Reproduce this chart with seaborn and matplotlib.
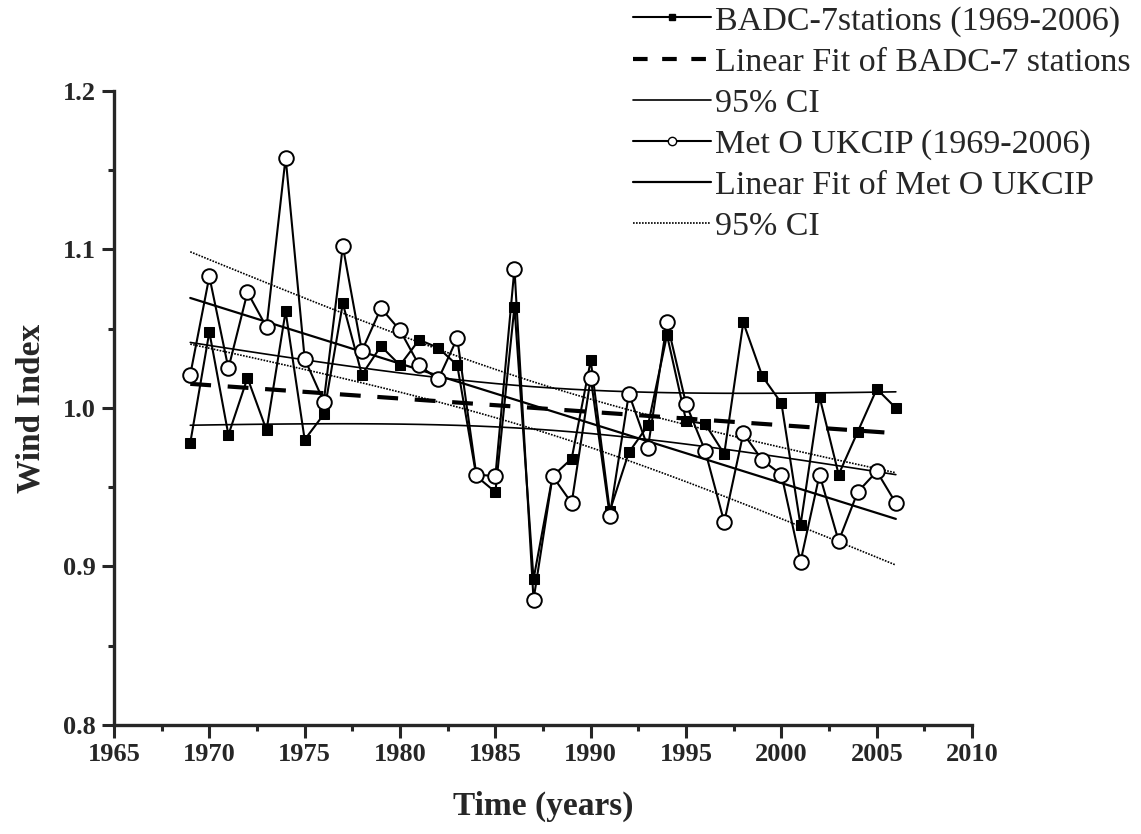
import numpy as np
import pandas as pd
import matplotlib
matplotlib.use("Agg")
import matplotlib.pyplot as plt
import seaborn as sns
from matplotlib.ticker import MultipleLocator, FormatStrFormatter
from matplotlib.lines import Line2D

years = list(range(1969, 2007))
badc = [0.978, 1.048, 0.983, 1.019, 0.986, 1.061, 0.980, 0.996, 1.066, 1.021,
        1.039, 1.027, 1.043, 1.038, 1.027, 0.957, 0.947, 1.064, 0.892, 0.957,
        0.968, 1.030, 0.935, 0.972, 0.989, 1.046, 0.992, 0.990, 0.971, 1.054,
        1.020, 1.003, 0.926, 1.007, 0.958, 0.985, 1.012, 1.000]
meto = [1.021, 1.083, 1.025, 1.073, 1.051, 1.158, 1.031, 1.004, 1.102, 1.036,
        1.063, 1.049, 1.027, 1.018, 1.044, 0.958, 0.957, 1.088, 0.879, 0.957,
        0.940, 1.019, 0.932, 1.009, 0.975, 1.054, 1.0025, 0.973, 0.928, 0.984,
        0.967, 0.958, 0.903, 0.958, 0.916, 0.947, 0.960, 0.940]
labels = ["BADC-7stations (1969-2006)", "Linear Fit of BADC-7 stations", "95% CI",
          "Met O UKCIP (1969-2006)", "Linear Fit of Met O UKCIP", "95% CI"]
T_CRIT = 2.028  # t(0.975, df=36)


def fit_ci(x, y):
    x = np.asarray(x, float)
    y = np.asarray(y, float)
    n = len(x)
    b, a = np.polyfit(x, y, 1)
    yhat = a + b * x
    s = np.sqrt(np.sum((y - yhat) ** 2) / (n - 2))
    sxx = np.sum((x - x.mean()) ** 2)
    half = T_CRIT * s * np.sqrt(1.0 / n + (x - x.mean()) ** 2 / sxx)
    return yhat, yhat - half, yhat + half


sns.set_style("ticks")
plt.rcParams["font.family"] = ["Liberation Serif", "DejaVu Serif"]

fig = plt.figure(figsize=(11.41, 8.34), dpi=100)
ax = fig.add_axes([0.0999, 0.1307, 0.7521, 0.7602])

df = pd.DataFrame({"year": years, "badc": badc, "meto": meto})
b_fit, b_lo, b_hi = fit_ci(years, badc)
m_fit, m_lo, m_hi = fit_ci(years, meto)

lw = 1.5
sns.lineplot(data=df, x="year", y="badc", ax=ax, color="black", lw=lw,
             marker="s", markersize=6.5, markeredgecolor="black", zorder=3)
ax.plot(years, b_fit, color="black", lw=3.0, dashes=(5, 4), zorder=2)
ax.plot(years, b_lo, color="black", lw=1.2, zorder=2)
ax.plot(years, b_hi, color="black", lw=1.2, zorder=2)
sns.lineplot(data=df, x="year", y="meto", ax=ax, color="black", lw=lw,
             marker="o", markersize=10.5, markerfacecolor="white",
             markeredgecolor="black", markeredgewidth=1.4, zorder=4)
ax.plot(years, m_fit, color="black", lw=1.6, zorder=2)
ax.plot(years, m_lo, color="black", lw=1.2, ls=(0, (1, 0.8)), zorder=2)
ax.plot(years, m_hi, color="black", lw=1.2, ls=(0, (1, 0.8)), zorder=2)

ax.set_xlim(1965, 2010)
ax.set_ylim(0.8, 1.2)
ax.xaxis.set_major_locator(MultipleLocator(5))
ax.xaxis.set_minor_locator(MultipleLocator(2.5))
ax.yaxis.set_major_locator(MultipleLocator(0.1))
ax.yaxis.set_minor_locator(MultipleLocator(0.05))
ax.yaxis.set_major_formatter(FormatStrFormatter("%.1f"))
for s in ["top", "right"]:
    ax.spines[s].set_visible(False)
for s in ["left", "bottom"]:
    ax.spines[s].set_linewidth(2.4)
ax.tick_params(which="major", direction="out", length=9, width=2.2,
               labelsize=19, pad=4)
ax.tick_params(which="minor", direction="out", length=4.5, width=2.2)
for t in ax.get_xticklabels() + ax.get_yticklabels():
    t.set_fontweight("bold")

ax.set_xlabel("Time (years)", fontsize=24, fontweight="bold", labelpad=18)
ax.set_ylabel("Wind Index", fontsize=24, fontweight="bold", labelpad=12)

handles = [
    Line2D([], [], color="black", lw=1.5, marker="s", markersize=5),
    Line2D([], [], color="black", lw=3.0, dashes=(3.5, 3.5)),
    Line2D([], [], color="black", lw=1.2),
    Line2D([], [], color="black", lw=1.5, marker="o", markersize=6,
           markerfacecolor="white", markeredgecolor="black"),
    Line2D([], [], color="black", lw=1.6),
    Line2D([], [], color="black", lw=1.2, ls=(0, (1, 0.8))),
]
fig.legend(handles, labels, loc="upper left", bbox_to_anchor=(0.534, 1.022),
           frameon=False, fontsize=24.5, handlelength=2.3, handletextpad=0.12,
           labelspacing=0.3, borderpad=0.2, numpoints=1)

fig.savefig("out.png", dpi=100)
